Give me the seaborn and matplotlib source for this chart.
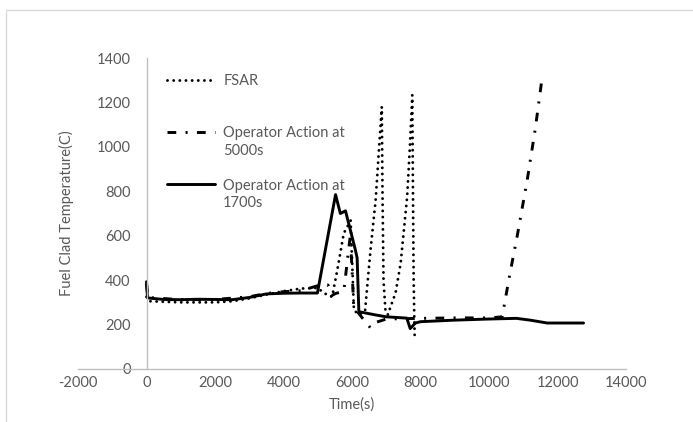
import numpy as np
import pandas as pd
import seaborn as sns
import matplotlib.pyplot as plt
from matplotlib.patches import Rectangle
from matplotlib.legend_handler import HandlerLine2D

# values
fsar_time = [0, 100, 1000, 2000, 2500, 3000, 3500, 4000, 4500, 5000, 5130, 5280, 5420,
             5570, 5760, 5960, 6000, 6055, 6200, 6380, 6540, 6690, 6870, 6890, 6920, 6980,
             7050, 7125, 7270, 7420, 7515, 7610, 7690, 7760, 7780, 7800, 7830]
fsar_temp = [325, 305, 300, 300, 305, 318, 335, 350, 362, 365, 348, 333, 325,
             445, 611, 668, 500, 265, 245, 260, 535, 760, 1180, 800, 400, 255,
             245, 280, 341, 476, 625, 775, 1000, 1233, 800, 400, 140]

op5000_time = [0, 40, 1000, 2000, 3000, 3500, 4000, 4500, 5000, 5300, 5400, 5520, 5760,
               5950, 6000, 6050, 6300, 6540, 6700, 7000, 8000, 9000, 10000, 10385,
               10600, 10825, 11115, 11350, 11535]
op5000_temp = [385, 322, 312, 313, 325, 340, 348, 352, 375, 378, 330, 340, 350,
               600, 450, 280, 230, 185, 210, 225, 228, 230, 230, 235,
               420, 600, 850, 1080, 1293]

op1700_time = [0, 30, 500, 1000, 1500, 2000, 2500, 3000, 3500, 4000, 4500, 4990, 5520,
               5660, 5810, 6100, 6150, 6200, 6700, 7000, 7600, 7700, 7850, 8000, 9000,
               10000, 10800, 11200, 11700, 12760]
op1700_temp = [393, 320, 313, 312, 314, 313, 312, 322, 338, 341, 342, 342, 785,
               700, 712, 535, 500, 258, 243, 235, 229, 182, 207, 213, 220,
               225, 228, 220, 207, 207]

labels = ["FSAR\n ", "Operator Action at\n5000s", "Operator Action at\n1700s"]
x_ticks = [-2000, 0, 2000, 4000, 6000, 8000, 10000, 12000, 14000]
y_ticks = [0, 200, 400, 600, 800, 1000, 1200, 1400]

sns.set_theme(style="white")
plt.rcParams['font.family'] = ['Lato', 'DejaVu Sans']
plt.rcParams['axes.unicode_minus'] = False

grey_txt = "#595959"
grey_ax = "#bfbfbf"

fig = plt.figure(figsize=(6.93, 4.22), dpi=100)
ax = fig.add_axes([78 / 693, 1 - 369 / 422, 548 / 693, 311 / 422])

# outer chart frame (cropped on the right and bottom)
fig.patches.append(Rectangle((5.5 / 693, -0.5), 2, 1 - 9.5 / 422 + 0.5,
                             transform=fig.transFigure, fill=False,
                             edgecolor="#d9d9d9", lw=1))

lw = 2.1
sns.lineplot(x=fsar_time, y=fsar_temp, ax=ax, color="black", lw=lw,
             linestyle=(0, (0.01, 2.1)), dash_capstyle="round",
             estimator=None, sort=False, label=labels[0])
sns.lineplot(x=op5000_time, y=op5000_temp, ax=ax, color="black", lw=lw,
             linestyle=(0, (3.0, 3.2, 0.7, 3.2)), dash_capstyle="butt",
             estimator=None, sort=False, label=labels[1])
sns.lineplot(x=op1700_time, y=op1700_temp, ax=ax, color="black", lw=lw,
             linestyle="-", estimator=None, sort=False, label=labels[2])

ax.set_xlim(-2000, 14000)
ax.set_ylim(0, 1400)
ax.set_xticks(x_ticks)
ax.set_yticks(y_ticks)

for s in ["top", "right"]:
    ax.spines[s].set_visible(False)
ax.spines["left"].set_position(("data", 0))
for s in ["left", "bottom"]:
    ax.spines[s].set_color(grey_ax)
    ax.spines[s].set_linewidth(1)

ax.tick_params(axis="x", length=0, pad=5, labelsize=10.5, labelcolor=grey_txt)
ax.tick_params(axis="y", length=0, pad=11.5, labelsize=10.5, labelcolor=grey_txt)
ax.grid(False)

ax.set_xlabel("Time(s)", fontsize=10.5, color=grey_txt)
ax.set_ylabel("Fuel Clad Temperature(C)", fontsize=10.5, color=grey_txt)
ax.xaxis.set_label_coords(0.5, (369 - 397) / 311)
ax.yaxis.set_label_coords((74 - 78) / 548, 0.5)


# legend handle sits next to the first text line, like Excel does
class FirstLineHandler(HandlerLine2D):
    def create_artists(self, *args, **kwargs):
        arts = super().create_artists(*args, **kwargs)
        for a in arts:
            a.set_ydata(np.asarray(a.get_ydata()) + 7.5)
        return arts


handles, labs = ax.get_legend_handles_labels()
leg = ax.legend(handles, labs, loc="upper left",
                bbox_to_anchor=((167 - 78) / 548, (369 - 74) / 311),
                frameon=False, fontsize=10.5, borderpad=0, borderaxespad=0,
                handlelength=3.3, handletextpad=0.55, labelspacing=1.4,
                handler_map={h: FirstLineHandler() for h in handles})
for t in leg.get_texts():
    t.set_color(grey_txt)
    t.set_linespacing(1.35)

fig.savefig("out.png", dpi=100)
